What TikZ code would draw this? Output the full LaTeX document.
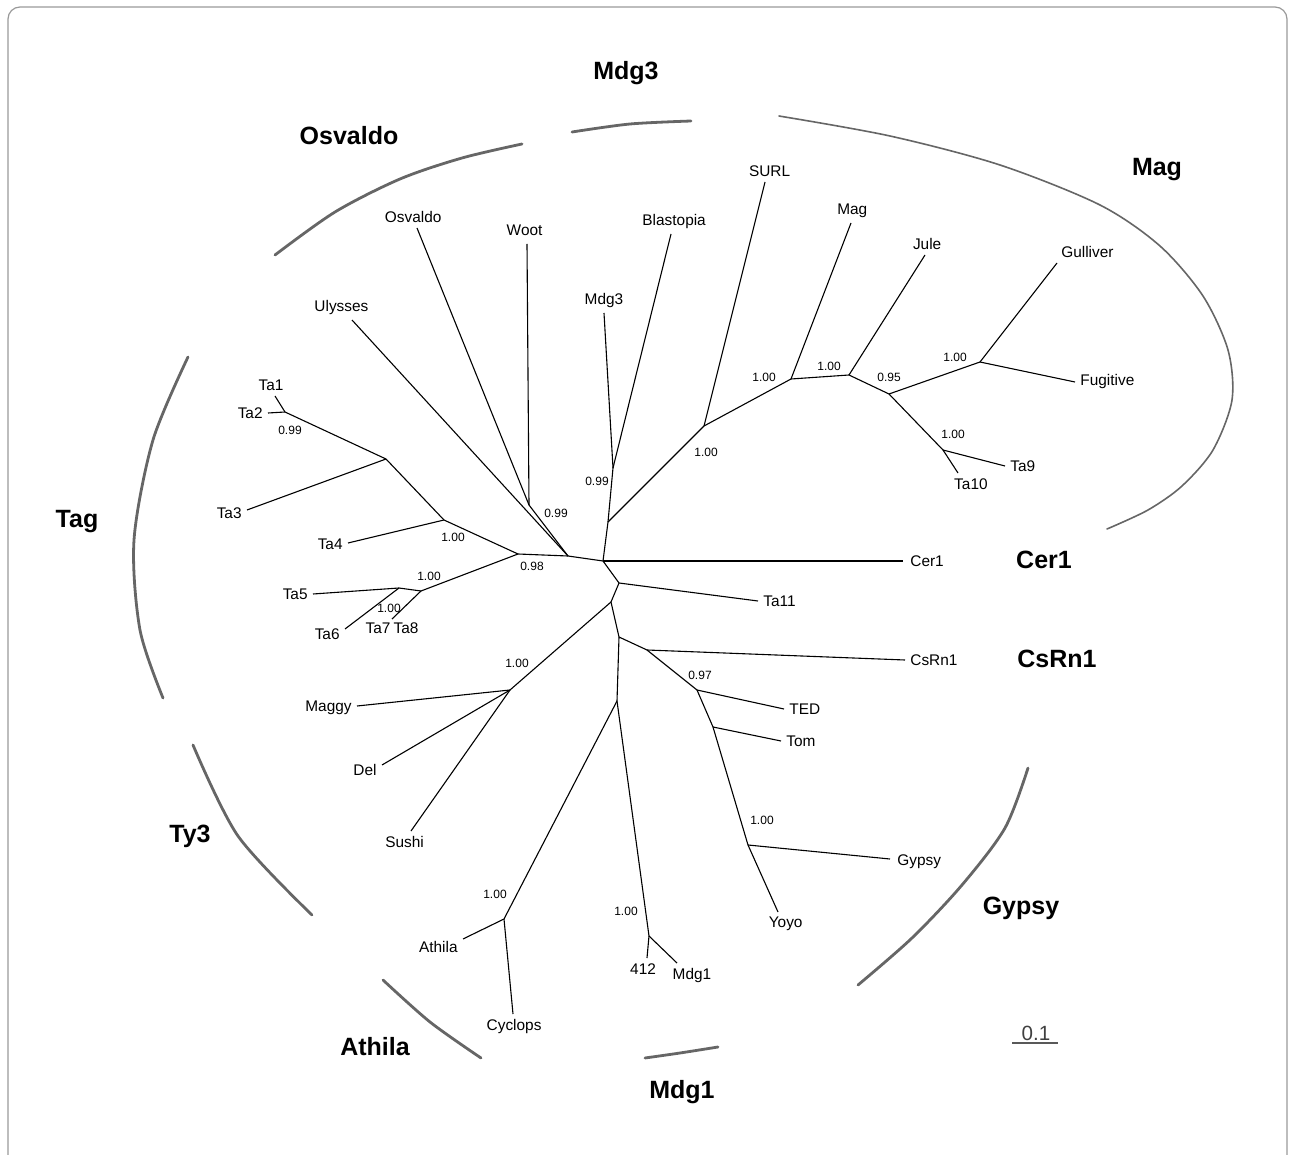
\documentclass[tikz,border=0pt]{standalone}
\usepackage{fontspec}
\setmainfont{Liberation Sans}
\tikzset{
  leaf/.style={font=\fontsize{7.7}{9}\selectfont, inner sep=2.5pt},
  supp/.style={font=\fontsize{6}{7}\selectfont, inner sep=0pt},
  grp/.style={font=\fontsize{12.5}{14}\selectfont\bfseries, inner sep=0pt},
  br/.style={line width=0.55pt},
  grparc/.style={line width=1.4pt, black!60, line cap=round},
}
\begin{document}
\begin{tikzpicture}[x=0.5pt,y=-0.5pt]
\useasboundingbox (0,0) rectangle (1292,1155);
\draw[black!40, line width=0.6pt, rounded corners=6pt] (8,1175) -- (8,7) -- (1287,7) -- (1287,1175);
\coordinate (c0) at (603,561);
\coordinate (c1) at (608,522);
\coordinate (c2) at (613,468);
\coordinate (c3) at (704,426);
\coordinate (c4) at (791,379);
\coordinate (c5) at (849,375);
\coordinate (c6) at (889,394);
\coordinate (c7) at (980,362);
\coordinate (c8) at (943,450);
\coordinate (l1) at (568,556);
\coordinate (l2) at (529,505);
\coordinate (l3) at (518,554);
\coordinate (l4) at (444,520);
\coordinate (l5) at (386,459);
\coordinate (l6) at (285,412);
\coordinate (l7) at (421,591);
\coordinate (l8) at (399,588);
\coordinate (t78) at (392,619);
\coordinate (r1) at (619,583);
\coordinate (r2) at (611,602);
\coordinate (r3) at (510,690);
\coordinate (r4) at (619,637);
\coordinate (r5) at (647,650);
\coordinate (r6) at (697,690);
\coordinate (r7) at (713,727);
\coordinate (r8) at (748,845);
\coordinate (r9) at (617,701);
\coordinate (r10) at (504,919);
\coordinate (r11) at (649,936);
\node[leaf, anchor=-70] (ta1) at (275,396) {Ta1};
\node[leaf, anchor=0] (ta2) at (268,413) {Ta2};
\node[leaf, anchor=10] (ta3) at (247,510) {Ta3};
\node[leaf, anchor=5] (ta4) at (348,543) {Ta4};
\node[leaf, anchor=0] (ta5) at (313,594) {Ta5};
\node[leaf, anchor=15] (ta6) at (345,629) {Ta6};
\node[leaf] (ta7) at (378,628) {Ta7};
\node[leaf] (ta8) at (406,628) {Ta8};
\node[leaf, anchor=-50] (uly) at (352,320) {Ulysses};
\node[leaf, anchor=-71] (osv) at (417,228) {Osvaldo};
\node[leaf, anchor=-80, inner sep=4pt] (woot) at (527,244) {Woot};
\node[leaf, anchor=-90] (mdg3) at (604,313) {Mdg3};
\node[leaf, anchor=-104] (blas) at (671,234) {Blastopia};
\node[leaf, anchor=-113] (surl) at (765,182) {SURL};
\node[leaf, anchor=-96] (mag) at (851,223) {Mag};
\node[leaf, anchor=-101] (jule) at (925,255) {Jule};
\node[leaf, anchor=-160] (gull) at (1057,263) {Gulliver};
\node[leaf, anchor=180] (fug) at (1075,382) {Fugitive};
\node[leaf, anchor=180] (ta9) at (1005,466) {Ta9};
\node[leaf, anchor=140] (ta10) at (958,473) {Ta10};
\node[leaf, anchor=180, inner sep=3.5pt] (cer1) at (903,561) {Cer1};
\node[leaf, anchor=180] (ta11) at (758,601) {Ta11};
\node[leaf, anchor=180] (csrn1) at (905,660) {CsRn1};
\node[leaf, anchor=180] (ted) at (784,709) {TED};
\node[leaf, anchor=180] (tom) at (781,741) {Tom};
\node[leaf, anchor=175, inner sep=3.5pt] (gypsy) at (890,859) {Gypsy};
\node[leaf, anchor=122] (yoyo) at (778,912) {Yoyo};
\node[leaf, anchor=140] (mdg1) at (677,963) {Mdg1};
\node[leaf, anchor=70] (n412) at (647,958) {412};
\node[leaf, anchor=95] (cyc) at (513,1014) {Cyclops};
\node[leaf, anchor=17] (ath) at (463,939) {Athila};
\node[leaf, anchor=60] (sushi) at (411,831) {Sushi};
\node[leaf, anchor=15] (del) at (382,765) {Del};
\node[leaf, anchor=4] (maggy) at (357,706) {Maggy};
\draw[br] (c0) -- (c1);
\draw[br] (c1) -- (c2);
\draw[br] (c2) -- (mdg3.-90);
\draw[br] (c2) -- (blas.-104);
\draw[br] (c1) -- (c3);
\draw[br] (c3) -- (surl.-113);
\draw[br] (c3) -- (c4);
\draw[br] (c4) -- (mag.-96);
\draw[br] (c4) -- (c5);
\draw[br] (c5) -- (jule.-101);
\draw[br] (c5) -- (c6);
\draw[br] (c6) -- (c7);
\draw[br] (c7) -- (gull.-160);
\draw[br] (c7) -- (fug.180);
\draw[br] (c6) -- (c8);
\draw[br] (c8) -- (ta9.180);
\draw[br] (c8) -- (ta10.140);
\draw[br] (c0) -- (cer1.180);
\draw[br] (c0) -- (l1);
\draw[br] (l1) -- (uly.-50);
\draw[br] (l1) -- (l2);
\draw[br] (l2) -- (osv.-71);
\draw[br] (l2) -- (woot.-80);
\draw[br] (l1) -- (l3);
\draw[br] (l3) -- (l4);
\draw[br] (l4) -- (ta4.5);
\draw[br] (l4) -- (l5);
\draw[br] (l5) -- (ta3.10);
\draw[br] (l5) -- (l6);
\draw[br] (l6) -- (ta1.-70);
\draw[br] (l6) -- (ta2.0);
\draw[br] (l3) -- (l7);
\draw[br] (l7) -- (l8);
\draw[br] (l8) -- (ta5.0);
\draw[br] (l8) -- (ta6.15);
\draw[br] (l7) -- (t78);
\draw[br] (c0) -- (r1);
\draw[br] (r1) -- (ta11.180);
\draw[br] (r1) -- (r2);
\draw[br] (r2) -- (r3);
\draw[br] (r3) -- (maggy.4);
\draw[br] (r3) -- (del.15);
\draw[br] (r3) -- (sushi.60);
\draw[br] (r2) -- (r4);
\draw[br] (r4) -- (r5);
\draw[br] (r5) -- (csrn1.180);
\draw[br] (r5) -- (r6);
\draw[br] (r6) -- (ted.180);
\draw[br] (r6) -- (r7);
\draw[br] (r7) -- (tom.180);
\draw[br] (r7) -- (r8);
\draw[br] (r8) -- (gypsy.175);
\draw[br] (r8) -- (yoyo.122);
\draw[br] (r4) -- (r9);
\draw[br] (r9) -- (r10);
\draw[br] (r10) -- (ath.17);
\draw[br] (r10) -- (cyc.95);
\draw[br] (r9) -- (r11);
\draw[br] (r11) -- (n412.70);
\draw[br] (r11) -- (mdg1.140);
\node[supp] (s1) at (290,430) {0.99};
\node[supp] (s2) at (453,537) {1.00};
\node[supp] (s3) at (532,566) {0.98};
\node[supp] (s4) at (556,513) {0.99};
\node[supp] (s5) at (429,576) {1.00};
\node[supp] (s6) at (389,608) {1.00};
\node[supp] (s7) at (597,481) {0.99};
\node[supp] (s8) at (706,452) {1.00};
\node[supp] (s9) at (764,377) {1.00};
\node[supp] (s10) at (829,366) {1.00};
\node[supp] (s11) at (889,377) {0.95};
\node[supp] (s12) at (955,357) {1.00};
\node[supp] (s13) at (953,434) {1.00};
\node[supp] (s14) at (517,663) {1.00};
\node[supp] (s15) at (700,675) {0.97};
\node[supp] (s16) at (762,820) {1.00};
\node[supp] (s17) at (495,894) {1.00};
\node[supp] (s18) at (626,911) {1.00};
\draw[grparc] plot[smooth] coordinates {(275,255) (335,212) (400,179) (462,158) (522,144)};
\draw[grparc] plot[smooth] coordinates {(572,132) (630,124) (691,121)};
\draw[grparc, line width=0.8pt] plot[smooth] coordinates {(779,116) (890,136) (1000,165) (1100,205) (1160,246) (1203,296) (1228,350) (1232,400) (1213,450) (1182,486) (1148,510) (1107,529)};
\draw[grparc] plot[smooth] coordinates {(188,357) (153,440) (134,540) (140,630) (163,698)};
\draw[grparc] plot[smooth] coordinates {(193,745) (238,836) (312,915)};
\draw[grparc] plot[smooth] coordinates {(383,980) (430,1022) (481,1058)};
\draw[grparc] plot[smooth] coordinates {(645,1058) (680,1053) (718,1047)};
\draw[grparc] plot[smooth] coordinates {(1028,768) (1005,828) (962,885) (912,938) (858,985)};
\node[grp] (gmdg3) at (626,73) {Mdg3};
\node[grp] (gosv) at (349,136) {Osvaldo};
\node[grp] (gmag) at (1157,170) {Mag};
\node[grp] (gtag) at (77,522) {Tag};
\node[grp] (gcer1) at (1044,560) {Cer1};
\node[grp] (gcsrn1) at (1057,659) {CsRn1};
\node[grp] (ggypsy) at (1021,908) {Gypsy};
\node[grp] (gty3) at (190,836) {Ty3};
\node[grp] (gath) at (375,1047) {Athila};
\node[grp] (gmdg1) at (682,1092) {Mdg1};
\coordinate (sb0) at (1012,1043);
\coordinate (sb1) at (1058,1043);
\draw[black!65, line width=0.6pt] (sb0) -- (sb1);
\node[font=\fontsize{10.3}{12}\selectfont, text=black!75, inner sep=0pt, anchor=base] (sbl) at (1036,1040) {0.1};
\end{tikzpicture}
\end{document}
